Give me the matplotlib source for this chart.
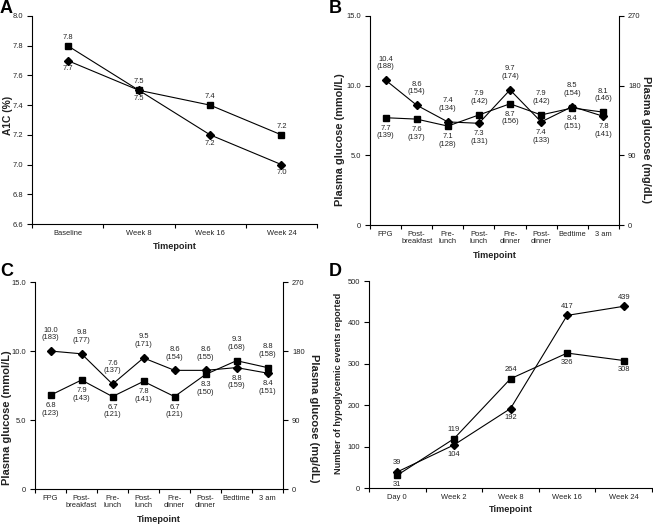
import matplotlib
matplotlib.use("Agg")
import matplotlib.pyplot as plt
import numpy as np

plt.rcParams['font.family'] = ['Liberation Sans', 'DejaVu Sans']

# ---- Data ----
a_cats = ["Baseline", "Week 8", "Week 16", "Week 24"]
a_square = [7.8, 7.5, 7.4, 7.2]
a_diamond = [7.7, 7.5, 7.2, 7.0]

glu_cats = ["FPG", "Post-\nbreakfast", "Pre-\nlunch", "Post-\nlunch", "Pre-\ndinner",
            "Post-\ndinner", "Bedtime", "3 am"]

b_diamond = [10.4, 8.6, 7.4, 7.3, 9.7, 7.4, 8.5, 7.8]
b_diamond_mg = [188, 154, 134, 131, 174, 133, 154, 141]
b_square = [7.7, 7.6, 7.1, 7.9, 8.7, 7.9, 8.4, 8.1]
b_square_mg = [139, 137, 128, 142, 156, 142, 151, 146]
b_diamond_pos = ['a', 'a', 'a', 'b', 'a', 'b', 'a', 'b']
b_square_pos = ['b', 'b', 'b', 'a', 'b', 'a', 'b', 'a']

c_diamond = [10.0, 9.8, 7.6, 9.5, 8.6, 8.6, 8.8, 8.4]
c_diamond_mg = [183, 177, 137, 171, 154, 155, 159, 151]
c_square = [6.8, 7.9, 6.7, 7.8, 6.7, 8.3, 9.3, 8.8]
c_square_mg = [123, 143, 121, 141, 121, 150, 168, 158]
c_diamond_pos = ['a', 'a', 'a', 'a', 'a', 'a', 'b', 'b']
c_square_pos = ['b', 'b', 'b', 'b', 'b', 'b', 'a', 'a']

d_cats = ["Day 0", "Week 2", "Week 8", "Week 16", "Week 24"]
d_diamond = [39, 104, 192, 417, 439]
d_square = [31, 119, 264, 326, 308]
d_diamond_pos = ['a', 'b', 'b', 'a', 'a']
d_square_pos = ['b', 'a', 'a', 'b', 'b']

TXT = '#222222'
FS_TICK = 5.4
FS_XLAB = 6.6
FS_DATA = 5.4

fig = plt.figure(figsize=(6.53, 5.26), dpi=100)


def setup_cat_axis(ax, cats, xlabelpad):
    n = len(cats)
    x = np.arange(n)
    ax.set_xlim(-0.5, n - 0.5)
    ax.set_xticks(x)
    ax.set_xticklabels(cats, fontsize=FS_TICK, color=TXT, linespacing=1.1)
    ax.tick_params(axis='x', which='major', length=0, pad=4)
    ax.set_xticks(np.arange(n + 1) - 0.5, minor=True)
    ax.tick_params(axis='x', which='minor', length=3, width=0.8, direction='out')
    ax.tick_params(axis='y', length=3.5, width=0.8, labelsize=FS_TICK, labelcolor=TXT, pad=3)
    ax.spines['top'].set_visible(False)
    ax.spines['right'].set_visible(False)
    for s in ['left', 'bottom']:
        ax.spines[s].set_linewidth(0.8)
    ax.set_xlabel("Timepoint", fontsize=FS_XLAB, fontweight='bold', color=TXT, labelpad=xlabelpad)
    return x


def draw_series(ax, x, vals, marker, ms):
    ax.plot(x, vals, color='black', lw=0.8, marker=marker, markersize=ms,
            markerfacecolor='black', markeredgecolor='black', zorder=3, clip_on=False)


def annotate(ax, x, vals, texts, pos, up, down):
    for xi, v, t, p in zip(x, vals, texts, pos):
        if p == 'a':
            ax.annotate(t, (xi, v), xytext=(0, up), textcoords='offset points',
                        ha='center', va='bottom', fontsize=FS_DATA, color=TXT, linespacing=1.15)
        else:
            ax.annotate(t, (xi, v), xytext=(0, -down), textcoords='offset points',
                        ha='center', va='top', fontsize=FS_DATA, color=TXT, linespacing=1.15)


# ---- Panel A ----
axA = fig.add_axes([0.049, 0.5741, 0.4365, 0.3955])
x = setup_cat_axis(axA, a_cats, 4)
axA.set_ylim(6.6, 8.0)
axA.set_yticks(np.arange(6.6, 8.01, 0.2))
axA.set_yticklabels([f"{v:.1f}" for v in np.arange(6.6, 8.01, 0.2)])
draw_series(axA, x, a_diamond, 'D', 4.4)
draw_series(axA, x, a_square, 's', 4.2)
annotate(axA, x, a_square, [f"{v:.1f}" for v in a_square], ['a'] * 4, 3.5, 3.5)
annotate(axA, x, a_diamond, [f"{v:.1f}" for v in a_diamond], ['b'] * 4, 3.5, 3.5)
axA.set_ylabel("A1C (%)", fontsize=7.4, fontweight='bold', color=TXT)
axA.yaxis.set_label_coords(-0.068, 0.524)
fig.text(0.0, 1.0, "A", fontsize=13, fontweight='bold', va='top', ha='left')


def glucose_panel(rect, letter, lpos, dia, dia_mg, dpos, sq, sq_mg, spos,
                  yfs, ylx, yrx, yy, xlabelpad):
    ax = fig.add_axes(rect)
    x = setup_cat_axis(ax, glu_cats, xlabelpad)
    ax.set_ylim(0, 15)
    ax.set_yticks([0, 5, 10, 15])
    ax.set_yticklabels(["0", "5.0", "10.0", "15.0"])
    draw_series(ax, x, dia, 'D', 4.4)
    draw_series(ax, x, sq, 's', 4.2)
    annotate(ax, x, dia, [f"{v:.1f}\n({m})" for v, m in zip(dia, dia_mg)], dpos, 7, 5)
    annotate(ax, x, sq, [f"{v:.1f}\n({m})" for v, m in zip(sq, sq_mg)], spos, 7, 5)
    ax.set_ylabel("Plasma glucose (mmol/L)", fontsize=yfs, fontweight='bold', color=TXT)
    ax.yaxis.set_label_coords(ylx, yy)
    ax2 = ax.twinx()
    ax2.set_ylim(0, 270)
    ax2.set_yticks([0, 90, 180, 270])
    ax2.tick_params(axis='y', length=3.5, width=0.8, labelsize=FS_TICK, labelcolor=TXT, pad=3)
    for s in ['top', 'left', 'bottom']:
        ax2.spines[s].set_visible(False)
    ax2.spines['right'].set_linewidth(0.8)
    ax2.set_ylabel("Plasma glucose (mg/dL)", fontsize=yfs, fontweight='bold', color=TXT,
                   rotation=270, va='bottom', ha='center')
    ax2.yaxis.set_label_coords(yrx, yy)
    fig.text(lpos[0], lpos[1], letter, fontsize=13, fontweight='bold', va='top', ha='left')
    return ax


glucose_panel([0.5666, 0.5722, 0.3813, 0.3974], "B", (0.503, 1.0),
              b_diamond, b_diamond_mg, b_diamond_pos, b_square, b_square_mg, b_square_pos,
              7.9, -0.102, 1.088, 0.41, 4)
glucose_panel([0.0536, 0.0703, 0.3798, 0.3935], "C", (0.0, 0.5),
              c_diamond, c_diamond_mg, c_diamond_pos, c_square, c_square_mg, c_square_pos,
              8.0, -0.092, 1.105, 0.343, 4)

# ---- Panel D ----
axD = fig.add_axes([0.5651, 0.0722, 0.4334, 0.3935])
x = setup_cat_axis(axD, d_cats, 3)
axD.set_ylim(0, 500)
axD.set_yticks(np.arange(0, 501, 100))
draw_series(axD, x, d_diamond, 'D', 4.4)
draw_series(axD, x, d_square, 's', 4.2)
annotate(axD, x, d_diamond, [str(v) for v in d_diamond], d_diamond_pos, 4, 4)
annotate(axD, x, d_square, [str(v) for v in d_square], d_square_pos, 4, 4)
axD.set_ylabel("Number of hypoglycemic events reported", fontsize=6.6, fontweight='bold',
               color=TXT)
axD.yaxis.set_label_coords(-0.092, 0.507)
fig.text(0.503, 0.5, "D", fontsize=13, fontweight='bold', va='top', ha='left')

fig.savefig("out.png", dpi=100)
